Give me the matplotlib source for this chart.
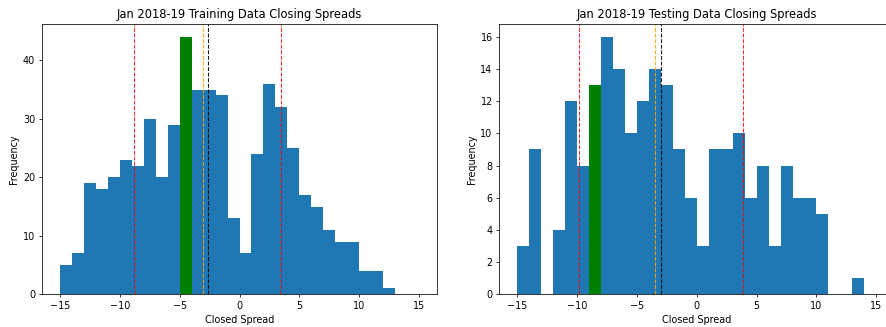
import numpy as np
import matplotlib
matplotlib.use("Agg")
import matplotlib.pyplot as plt

bin_edges = list(range(-15, 16))

train_counts = [5, 7, 19, 18, 20, 23, 22, 30, 20, 29, 44, 35, 35, 34, 13,
                7, 24, 36, 32, 25, 17, 15, 11, 9, 9, 4, 4, 1, 0, 0]
train_green_bin = -5
train_mean = -2.66
train_median = -3.05
train_lo = -8.84
train_hi = 3.50

test_counts = [3, 9, 0, 4, 12, 8, 13, 16, 14, 10, 12, 14, 13, 9, 6,
               3, 9, 9, 10, 6, 8, 3, 8, 6, 6, 5, 0, 0, 1, 0]
test_green_bin = -9
test_mean = -3.01
test_median = -3.51
test_lo = -9.87
test_hi = 3.83

DPI = 69
fig = plt.figure(figsize=(886 / DPI, 327 / DPI), dpi=DPI)

W = 395 / 886
H = 270.3 / 327
B = (327 - 294.3) / 327
ax1 = fig.add_axes([42 / 886, B, W, H])
ax2 = fig.add_axes([499.3 / 886, B, W, H])


def draw(ax, counts, green_bin, mean, median, lo, hi, title):
    lefts = bin_edges[:-1]
    n, bins, patches = ax.hist(lefts, bins=bin_edges, weights=counts,
                               color='#1f77b4', linewidth=0)
    for left, p in zip(lefts, patches):
        if left == green_bin:
            p.set_facecolor('green')
    ax.axvline(median, color='orange', linestyle='--', linewidth=1.1, alpha=0.9)
    ax.axvline(mean, color='black', linestyle='--', linewidth=1.1, alpha=0.9)
    ax.axvline(lo, color='red', linestyle='--', linewidth=1.1, alpha=0.85)
    ax.axvline(hi, color='red', linestyle='--', linewidth=1.1, alpha=0.85)
    ax.set_title(title, fontsize=12)
    ax.set_xlabel('Closed Spread')
    ax.set_ylabel('Frequency')
    ax.set_xticks([-15, -10, -5, 0, 5, 10, 15])


draw(ax1, train_counts, train_green_bin, train_mean, train_median, train_lo, train_hi,
     'Jan 2018-19 Training Data Closing Spreads')
draw(ax2, test_counts, test_green_bin, test_mean, test_median, test_lo, test_hi,
     'Jan 2018-19 Testing Data Closing Spreads')

fig.savefig('out.png', dpi=DPI)
